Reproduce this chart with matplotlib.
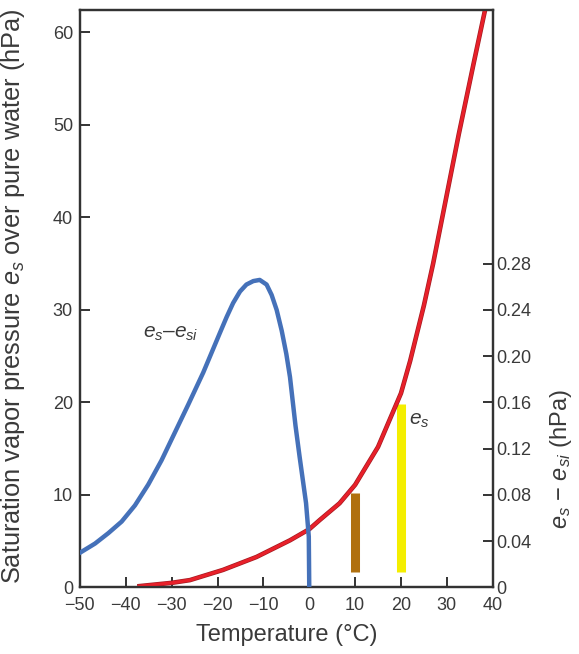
import matplotlib
matplotlib.use("Agg")
import matplotlib.pyplot as plt
import matplotlib.patheffects as pe

plt.rcParams['font.family'] = ['Liberation Sans', 'DejaVu Sans']
plt.rcParams['mathtext.fontset'] = 'custom'
plt.rcParams['mathtext.rm'] = 'Liberation Sans'
plt.rcParams['mathtext.it'] = 'Liberation Sans:italic'

# Saturation vapor pressure over water (left axis, hPa)
temp_es = [-37, -30, -26, -18.8, -11.5, -4.2, 0, 2.3, 6.6, 10, 15, 20, 22, 25, 27, 30,
           32.6, 35.9, 38.4]
es = [0.15, 0.5, 0.8, 1.9, 3.3, 5.1, 6.3, 7.3, 9.1, 11.1, 15.2, 21.0, 24.5, 30.5, 35.0,
      42.5, 49.0, 56.8, 62.6]

# Difference es - esi (right axis, hPa)
temp_diff = [-50, -46.7, -43.8, -40.9, -38.0, -35.1, -32.2, -29.3, -26.4, -23.1, -19.5,
             -18.0, -16.6, -15.1, -13.7, -12.2, -10.8, -9.3, -8.2, -7.1, -6.0, -5.0,
             -4.2, -3.0, -2.1, -0.7, -0.1, 0]
es_minus_esi = [0.030, 0.038, 0.047, 0.057, 0.071, 0.089, 0.110, 0.134, 0.158, 0.186,
                0.220, 0.234, 0.246, 0.256, 0.262, 0.265, 0.266, 0.262, 0.253, 0.240,
                0.222, 0.202, 0.182, 0.140, 0.113, 0.073, 0.044, 0.0]

# vertical markers at 10 and 20 C (left axis units)
bar_temps = [10, 20]
bar_bottom = [1.7, 1.7]
bar_top = [10.2, 19.8]
bar_colors = ['#b0700f', '#f4ee00']

xticks = list(range(-50, 41, 10))
yticks_left = list(range(0, 61, 10))
yticks_right = [0, 0.04, 0.08, 0.12, 0.16, 0.20, 0.24, 0.28]
yticklabels_right = ['0', '0.04', '0.08', '0.12', '0.16', '0.20', '0.24', '0.28']

ymax_left = 62.43
scale = 0.008  # right axis value per left axis unit

fig = plt.figure(figsize=(5.79, 6.54), dpi=100)
ax = fig.add_axes([0.138, 0.1017, 0.713, 0.8830])
ax2 = ax.twinx()

spine_col = '#333333'
txt_col = '#3a3a3a'
for a in (ax, ax2):
    for s in a.spines.values():
        s.set_linewidth(1.6)
        s.set_color(spine_col)

ax.plot(temp_es, es, color='#e8202a', lw=2.3, zorder=4,
        path_effects=[pe.Stroke(linewidth=3.3, foreground='#a31c22'), pe.Normal()])
ax2.plot(temp_diff, es_minus_esi, color='#4571b9', lw=3.2, solid_joinstyle='round', zorder=3)
ax.vlines(bar_temps, bar_bottom, bar_top, colors=bar_colors, lw=6.5, zorder=2)

ax.set_xlim(-50, 40)
ax.set_ylim(0, ymax_left)
ax2.set_ylim(0, ymax_left * scale)

ax.set_xticks(xticks)
ax.set_yticks(yticks_left)
ax2.set_yticks(yticks_right)
ax2.set_yticklabels(yticklabels_right)

ax.tick_params(axis='both', direction='in', length=7, width=1.4, color=spine_col,
               labelsize=13, labelcolor=txt_col)
ax.tick_params(axis='x', pad=6.5)
ax.tick_params(axis='y', pad=5)
ax2.tick_params(axis='y', direction='in', length=7, width=1.4, color=spine_col,
                labelsize=13, labelcolor=txt_col, pad=2.5)

ax.set_xlabel('Temperature (°C)', fontsize=17, color=txt_col)
ax.xaxis.set_label_coords(0.5, -0.063)
ax.set_ylabel('Saturation vapor pressure $e_s$ over pure water (hPa)', fontsize=18.3,
              color=txt_col)
ax.yaxis.set_label_coords(-0.127, 0.505)
ax2.set_ylabel('$e_s$ − $e_{si}$ (hPa)', fontsize=17, color=txt_col)
ax2.yaxis.set_label_coords(1.135, 0.222)

# curve labels
ax.text(-30.2, 27.5, '$e_s$–$e_{si}$', fontsize=15, color=txt_col, ha='center', va='center')
ax.text(24.1, 18.0, '$e_s$', fontsize=15, color=txt_col, ha='center', va='center')

plt.savefig('out.png', dpi=100)
